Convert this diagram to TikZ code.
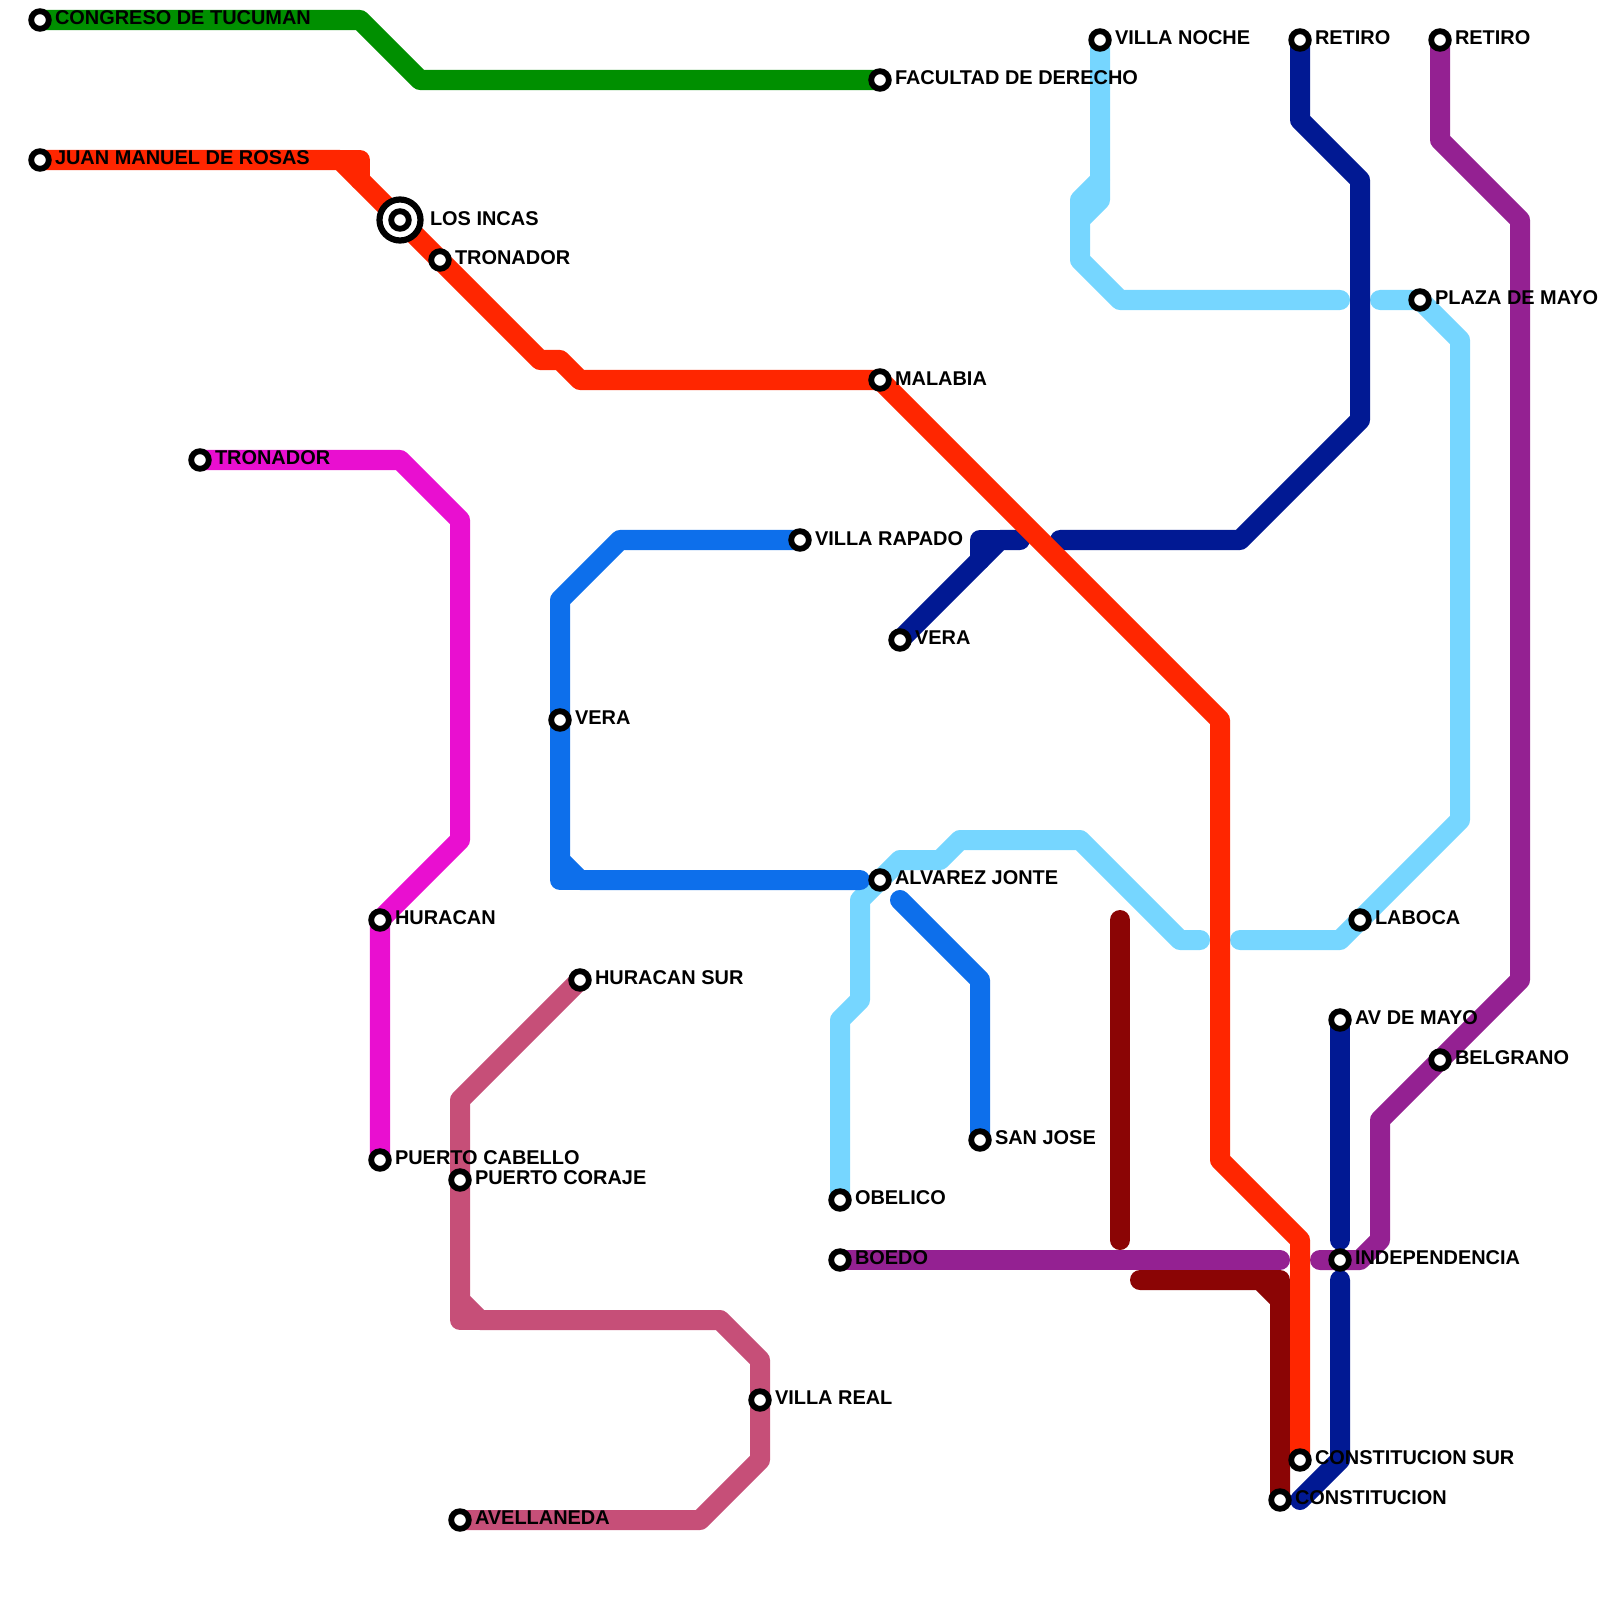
\documentclass[tikz,border=0pt]{standalone}
\usepackage{fontspec}
\setmainfont{Liberation Sans}
\usetikzlibrary{backgrounds}
\definecolor{lingreen}{HTML}{008F00}
\definecolor{linred}{HTML}{FF2600}
\definecolor{linsky}{HTML}{76D6FF}
\definecolor{linnavy}{HTML}{011993}
\definecolor{linblue}{HTML}{0D6FEB}
\definecolor{linmag}{HTML}{E90FD0}
\definecolor{linpink}{HTML}{C64F78}
\definecolor{lingrape}{HTML}{942192}
\definecolor{linmaroon}{HTML}{8B0505}

\begin{document}
\begin{tikzpicture}[
  x=0.01cm, y=-0.01cm,
  ln/.style={line width=2mm, line cap=round, line join=round},
  stn/.style={circle, draw=black, fill=white, line width=0.58mm, minimum size=1.76mm, inner sep=0pt, outer sep=0pt},
  hub/.style={stn, line width=0.62mm, minimum size=4.1mm},
  lbl/.style={anchor=base west, inner sep=0pt, outer sep=0pt, font=\bfseries\fontsize{5.67pt}{7pt}\selectfont}
]
\useasboundingbox (0,0) rectangle (1600,1600);

\node[stn] (congreso) at (40,20) {};
\node[stn] (facultad) at (880,80) {};
\node[stn] (rosas) at (40,160) {};
\node[hub] (incashub) at (400,220) {};
\node[stn] (incas) at (400,220) {};
\node[stn] (tronadorr) at (440,260) {};
\node[stn] (malabia) at (880,380) {};
\node[stn] (consur) at (1300,1460) {};
\node[stn] (tronadorm) at (200,460) {};
\node[stn] (huracan) at (380,920) {};
\node[stn] (cabello) at (380,1160) {};
\node[stn] (hursur) at (580,980) {};
\node[stn] (coraje) at (460,1180) {};
\node[stn] (vreal) at (760,1400) {};
\node[stn] (avellaneda) at (460,1520) {};
\node[stn] (vrapado) at (800,540) {};
\node[stn] (verab) at (560,720) {};
\node[stn] (sanjose) at (980,1140) {};
\node[stn] (veran) at (900,640) {};
\node[stn] (vnoche) at (1100,40) {};
\node[stn] (plaza) at (1420,300) {};
\node[stn] (laboca) at (1360,920) {};
\node[stn] (jonte) at (880,880) {};
\node[stn] (obelico) at (840,1200) {};
\node[stn] (retiron) at (1300,40) {};
\node[stn] (retirop) at (1440,40) {};
\node[stn] (belgrano) at (1440,1060) {};
\node[stn] (indep) at (1340,1260) {};
\node[stn] (boedo) at (840,1260) {};
\node[stn] (avmayo) at (1340,1020) {};
\node[stn] (consti) at (1280,1500) {};

\node[lbl] (congreso-t) at (55,25) {CONGRESO DE TUCUMAN};
\node[lbl] (facultad-t) at (895,85) {FACULTAD DE DERECHO};
\node[lbl] (rosas-t) at (55,165) {JUAN MANUEL DE ROSAS};
\node[lbl] (incas-t) at (430,225.5) {LOS INCAS};
\node[lbl] (tronadorr-t) at (455,264.5) {TRONADOR};
\node[lbl] (malabia-t) at (895,385) {MALABIA};
\node[lbl] (consur-t) at (1315,1464.5) {CONSTITUCION SUR};
\node[lbl] (tronadorm-t) at (215,464.5) {TRONADOR};
\node[lbl] (huracan-t) at (395,924.5) {HURACAN};
\node[lbl] (cabello-t) at (395,1164.5) {PUERTO CABELLO};
\node[lbl] (hursur-t) at (595,984.5) {HURACAN SUR};
\node[lbl] (coraje-t) at (475,1184.5) {PUERTO CORAJE};
\node[lbl] (vreal-t) at (775,1404.5) {VILLA REAL};
\node[lbl] (avellaneda-t) at (475,1524.5) {AVELLANEDA};
\node[lbl] (vrapado-t) at (815,545) {VILLA RAPADO};
\node[lbl] (verab-t) at (575,724.5) {VERA};
\node[lbl] (sanjose-t) at (995,1144.5) {SAN JOSE};
\node[lbl] (veran-t) at (915,644.5) {VERA};
\node[lbl] (vnoche-t) at (1115,45) {VILLA NOCHE};
\node[lbl] (plaza-t) at (1435,304.5) {PLAZA DE MAYO};
\node[lbl] (laboca-t) at (1375,924.5) {LABOCA};
\node[lbl] (jonte-t) at (895,884.5) {ALVAREZ JONTE};
\node[lbl] (obelico-t) at (855,1204.5) {OBELICO};
\node[lbl] (retiron-t) at (1315,45) {RETIRO};
\node[lbl] (retirop-t) at (1455,45) {RETIRO};
\node[lbl] (belgrano-t) at (1455,1064.5) {BELGRANO};
\node[lbl] (indep-t) at (1355,1264.5) {INDEPENDENCIA};
\node[lbl] (boedo-t) at (855,1264.5) {BOEDO};
\node[lbl] (avmayo-t) at (1355,1024.5) {AV DE MAYO};
\node[lbl] (consti-t) at (1295,1504.5) {CONSTITUCION};

\coordinate (navya) at (1020,540);
\coordinate (navyb) at (1060,540);
\coordinate (navyc) at (1340,1240);
\coordinate (navyd) at (1340,1280);
\coordinate (navye) at (1300,1500);
\coordinate (skya) at (1340,300);
\coordinate (skyb) at (1380,300);
\coordinate (skyc) at (1240,940);
\coordinate (skyd) at (1200,940);
\coordinate (bluea) at (860,880);
\coordinate (blueb) at (900,900);
\coordinate (grapea) at (1320,1260);
\coordinate (grapeb) at (1280,1260);
\coordinate (maroona) at (1120,920);
\coordinate (maroonb) at (1120,1240);
\coordinate (maroonc) at (1140,1280);

\begin{scope}[on background layer]
  \draw[ln, lingreen] (congreso.center) -- (360,20) -- (420,80) -- (facultad.center);

  \draw[ln, linmag] (tronadorm.center) -- (400,460) -- (460,520) -- (460,840) -- (380,920) -- (cabello.center);

  \draw[ln, linpink] (hursur.center) -- (460,1100) -- (460,1300) -- (480,1320) -- (720,1320) -- (760,1360) -- (760,1460) -- (700,1520) -- (avellaneda.center);
  \draw[ln, linpink] (460,1300) -- (460,1320) -- (480,1320);

  \draw[ln, lingrape] (retirop.center) -- (1440,140) -- (1520,220) -- (1520,980) -- (1380,1120) -- (1380,1240) -- (1360,1260) -- (grapea);
  \draw[ln, lingrape] (boedo.center) -- (grapeb);

  \draw[ln, linmaroon] (maroona) -- (maroonb);
  \draw[ln, linmaroon] (maroonc) -- (1260,1280) -- (1280,1300) -- (consti.center);
  \draw[ln, linmaroon] (1260,1280) -- (1280,1280) -- (1280,1300);

  \draw[ln, linsky] (vnoche.center) -- (1100,200) -- (1080,220) -- (1080,260) -- (1120,300) -- (skya);
  \draw[ln, linsky] (1100,180) -- (1080,200) -- (1080,220);
  \draw[ln, linsky] (skyb) -- (plaza.center) -- (1460,340) -- (1460,820) -- (1340,940) -- (skyc);
  \draw[ln, linsky] (skyd) -- (1180,940) -- (1080,840) -- (960,840) -- (940,860) -- (900,860) -- (860,900) -- (860,1000) -- (840,1020) -- (obelico.center);

  \draw[ln, linblue] (vrapado.center) -- (620,540) -- (560,600) -- (560,860) -- (580,880) -- (bluea);
  \draw[ln, linblue] (560,860) -- (560,880) -- (580,880);
  \draw[ln, linblue] (blueb) -- (980,980) -- (sanjose.center);

  \draw[ln, linnavy] (veran.center) -- (1000,540) -- (navya);
  \draw[ln, linnavy] (1000,540) -- (980,540) -- (980,560);
  \draw[ln, linnavy] (navyb) -- (1240,540) -- (1360,420) -- (1360,180) -- (1300,120) -- (retiron.center);
  \draw[ln, linnavy] (avmayo.center) -- (navyc);
  \draw[ln, linnavy] (navyd) -- (1340,1460) -- (navye);

  \draw[ln, linred] (rosas.center) -- (340,160) -- (540,360) -- (560,360) -- (580,380) -- (malabia.center) -- (1220,720) -- (1220,1160) -- (1300,1240) -- (consur.center);
  \draw[ln, linred] (340,160) -- (360,160) -- (360,180);
\end{scope}

\end{tikzpicture}
\end{document}
